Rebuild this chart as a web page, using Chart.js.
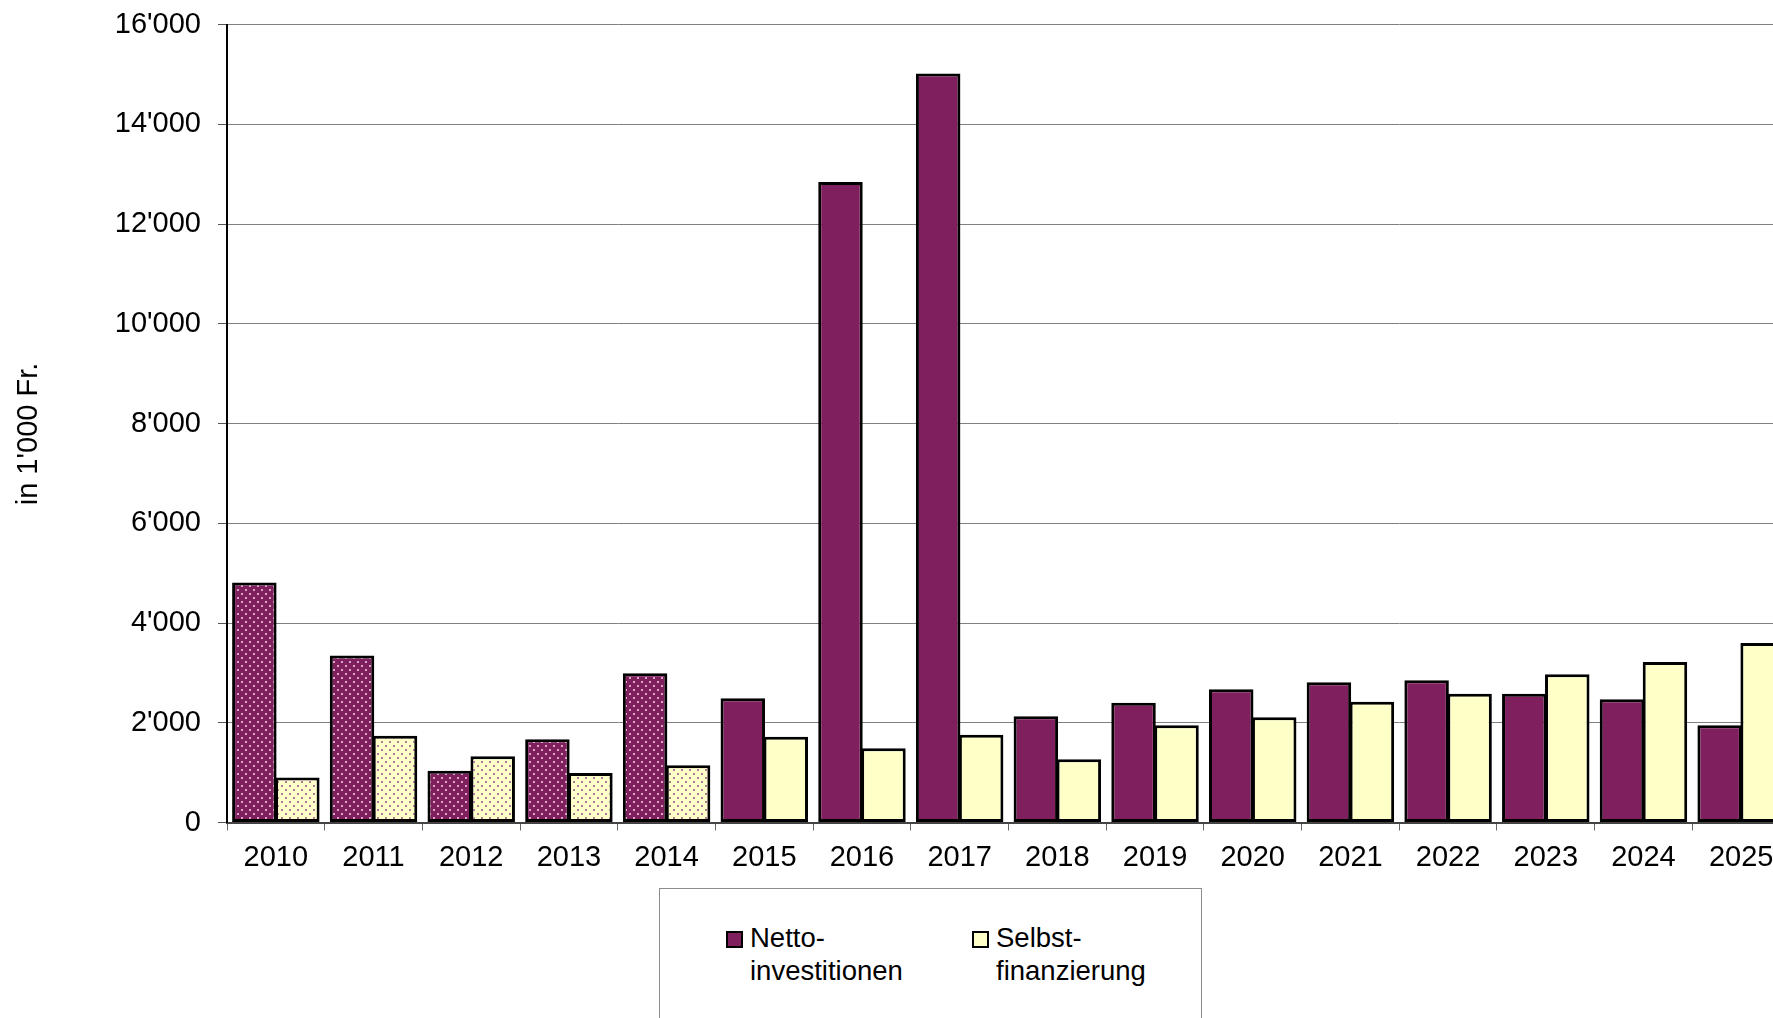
<!DOCTYPE html>
<html>
<head>
<meta charset="utf-8">
<script src="https://cdn.jsdelivr.net/npm/chart.js@4/dist/chart.umd.min.js"></script>
<style>
  html, body { margin: 0; padding: 0; background: #fff; overflow: hidden; width: 1773px; height: 1018px; }
  #c { position: absolute; left: 0; top: 0; }
  .legend { position: absolute; left: 659px; top: 888px; width: 543px; height: 200px;
            border: 1px solid #8c8c8c; box-sizing: border-box; background: #fff; }
  .item { position: absolute; font-family: "Liberation Sans", Arial, sans-serif; font-size: 27.5px;
          line-height: 33px; color: #000; }
  .sw { position: absolute; width: 17px; height: 17px; border: 2px solid #000; box-sizing: border-box; }
</style>
</head>
<body>
<canvas id="c" width="1800" height="1018"></canvas>
<div class="legend"></div>
<div class="sw" style="left:726px;top:931px;background:#801f5e"></div>
<div class="item" style="left:750px;top:921px">Netto-<br>investitionen</div>
<div class="sw" style="left:972px;top:931px;background:#ffffc8"></div>
<div class="item" style="left:996px;top:921px">Selbst-<br>finanzierung</div>
<script>
// Werte in 1'000 Fr.
const years = ['2010','2011','2012','2013','2014','2015','2016','2017','2018','2019','2020','2021','2022','2023','2024','2025'];
const nettoinvestitionen = [4810, 3350, 1040, 1670, 2990, 2490, 12840, 15020, 2130, 2400, 2670, 2810, 2850, 2580, 2470, 1950];
const selbstfinanzierung = [900, 1740, 1330, 990, 1150, 1720, 1490, 1760, 1270, 1950, 2110, 2420, 2580, 2970, 3220, 3600];
// Rechnungsjahre (gepunktet dargestellt)
const istYears = ['2010','2011','2012','2013','2014'];
const yTicks = [0, 2000, 4000, 6000, 8000, 10000, 12000, 14000, 16000];

const PURPLE = '#801f5e';
const YELLOW = '#ffffc8';

function dots(base, dot) {
  const t = document.createElement('canvas');
  t.width = 8; t.height = 8;
  const g = t.getContext('2d');
  g.fillStyle = base;
  g.fillRect(0, 0, 8, 8);
  g.fillStyle = dot;
  g.fillRect(1, 1, 2, 2);
  g.fillRect(5, 5, 2, 2);
  return g.createPattern(t, 'repeat');
}

const ctx = document.getElementById('c').getContext('2d');
const purpleDots = dots(PURPLE, '#d9a6c6');
const yellowDots = dots(YELLOW, '#b57a96');

const fmt = v => String(v).replace(/\B(?=(\d{3})+(?!\d))/g, "'");

const yTitle = {
  id: 'yTitle',
  afterDraw(chart) {
    const c = chart.ctx;
    c.save();
    c.translate(37, 434);
    c.rotate(-Math.PI / 2);
    c.font = '29px "Liberation Sans", Arial, sans-serif';
    c.fillStyle = '#000';
    c.textAlign = 'center';
    c.textBaseline = 'alphabetic';
    c.fillText("in 1'000 Fr.", 0, 0);
    c.restore();
  }
};

new Chart(ctx, {
  type: 'bar',
  data: {
    labels: years,
    datasets: [
      {
        label: 'Nettoinvestitionen',
        data: nettoinvestitionen,
        backgroundColor: years.map(y => istYears.includes(y) ? purpleDots : PURPLE),
        borderColor: '#000',
        borderWidth: 3,
        borderSkipped: false
      },
      {
        label: 'Selbstfinanzierung',
        data: selbstfinanzierung,
        backgroundColor: years.map(y => istYears.includes(y) ? yellowDots : YELLOW),
        borderColor: '#000',
        borderWidth: 3,
        borderSkipped: false
      }
    ]
  },
  options: {
    responsive: false,
    animation: false,
    layout: { padding: { top: 24.5, right: 10, left: 0, bottom: 0 } },
    datasets: { bar: { categoryPercentage: 0.88, barPercentage: 1.035 } },
    plugins: { legend: { display: false }, tooltip: { enabled: false } },
    scales: {
      x: {
        afterFit: s => { s.height = 195.5; s.paddingLeft = 0; s.paddingRight = 0; },
        grid: { offset: true, drawOnChartArea: false, tickLength: 8, tickColor: '#666', lineWidth: 1 },
        border: { color: '#444', width: 2 },
        ticks: { color: '#000', padding: 10, font: { family: '"Liberation Sans", Arial, sans-serif', size: 29 } }
      },
      y: {
        min: 0,
        max: 16000,
        afterFit: s => { s.width = 227; s.paddingTop = 0; s.paddingBottom = 0; },
        afterBuildTicks: s => { s.ticks = yTicks.map(v => ({ value: v })); },
        grid: { color: '#808080', lineWidth: 1, tickLength: 9, tickColor: '#555' },
        border: { color: '#000', width: 2 },
        ticks: {
          color: '#000', padding: 17,
          font: { family: '"Liberation Sans", Arial, sans-serif', size: 29 },
          callback: v => fmt(v)
        }
      }
    }
  },
  plugins: [yTitle]
});
</script>
</body>
</html>
